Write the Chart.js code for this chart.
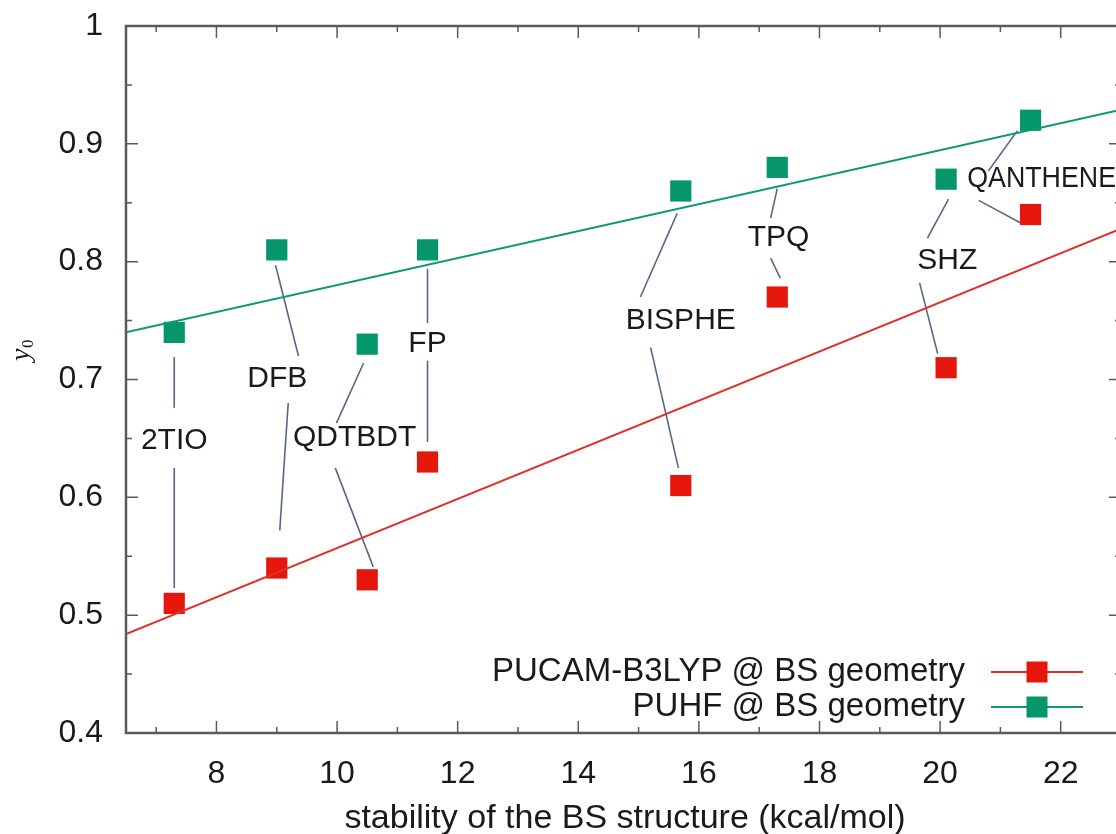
<!DOCTYPE html>
<html>
<head>
<meta charset="utf-8">
<script src="https://cdn.jsdelivr.net/npm/chart.js@4.4.1/dist/chart.umd.min.js"></script>
<style>
  html, body { margin: 0; padding: 0; background: #fff; overflow: hidden; }
  #wrap { width: 1140px; height: 834px; }
</style>
</head>
<body>
<div id="wrap"><canvas id="chart" width="1140" height="834"></canvas></div>
<script>
'use strict';

// Data
const molecules = ['2TIO', 'DFB', 'QDTBDT', 'FP', 'BISPHE', 'TPQ', 'SHZ', 'QANTHENE'];
const stability = [7.3, 9.0, 10.5, 11.5, 15.7, 17.3, 20.1, 21.5];
const y0Pucam = [0.51, 0.54, 0.53, 0.63, 0.61, 0.77, 0.71, 0.84];
const y0Puhf = [0.74, 0.81, 0.73, 0.81, 0.86, 0.88, 0.87, 0.92];
// linear fits, end points
const fitPucam = [[6.5, 0.484], [23, 0.828]];
const fitPuhf = [[6.5, 0.740], [23, 0.929]];

const xTicks = [8, 10, 12, 14, 16, 18, 20, 22];
const yTicks = [0.4, 0.5, 0.6, 0.7, 0.8, 0.9, 1];

// label anchors (x, y, align) and leader segments (x1, y1, x2, y2), data units
const labelPos = [
  [7.30, 0.648, 'center'],
  [9.01, 0.701, 'center'],
  [10.29, 0.651, 'center'],
  [11.50, 0.730, 'center'],
  [15.70, 0.750, 'center'],
  [17.32, 0.820, 'center'],
  [20.12, 0.801, 'center'],
  [20.45, 0.870, 'left'],
];
const leaders = [
  [[7.30, 0.719, 7.30, 0.676], [7.30, 0.625, 7.30, 0.523]],
  [[8.98, 0.797, 9.36, 0.720], [9.19, 0.680, 9.05, 0.572]],
  [[10.44, 0.714, 9.99, 0.663], [9.97, 0.625, 10.60, 0.541]],
  [[11.50, 0.794, 11.50, 0.748], [11.50, 0.716, 11.50, 0.647]],
  [[15.64, 0.841, 15.03, 0.770], [15.20, 0.727, 15.66, 0.625]],
  [[17.30, 0.862, 17.19, 0.837], [17.19, 0.803, 17.35, 0.786]],
  [[20.14, 0.853, 19.79, 0.820], [19.66, 0.782, 19.96, 0.722]],
  [[21.28, 0.911, 20.80, 0.877], [20.64, 0.852, 21.33, 0.833]],
];

const seriesNames = ['PUCAM-B3LYP @ BS geometry', 'PUHF @ BS geometry'];
const redMark = '#e5170c';
const redLine = '#e0302a';
const greenMark = '#05966b';
const greenLine = '#0d9a72';
const leaderColor = '#56688a';
const frameColor = '#5a5a5a';
const FONT = "'Liberation Sans', Arial, sans-serif";

Chart.defaults.font.family = FONT;

const gnuplotLook = {
  id: 'gnuplotLook',
  beforeDatasetsDraw(chart) {
    const { ctx, scales: { x, y } } = chart;
    ctx.save();
    // leader lines
    ctx.strokeStyle = leaderColor;
    ctx.lineWidth = 1.6;
    leaders.forEach((segs) => {
      segs.forEach((s) => {
        ctx.beginPath();
        ctx.moveTo(x.getPixelForValue(s[0]), y.getPixelForValue(s[1]));
        ctx.lineTo(x.getPixelForValue(s[2]), y.getPixelForValue(s[3]));
        ctx.stroke();
      });
    });
    ctx.restore();
  },
  afterDraw(chart) {
    const { ctx, chartArea: a, scales: { x, y } } = chart;
    ctx.save();
    // frame
    ctx.strokeStyle = frameColor;
    ctx.lineWidth = 2.5;
    ctx.strokeRect(a.left, a.top, a.right - a.left, a.bottom - a.top);
    // inward ticks
    ctx.lineWidth = 1.5;
    for (let v = 7; v <= 22; v++) {
      const px = x.getPixelForValue(v);
      const len = v % 2 === 0 ? 12 : 6;
      ctx.beginPath();
      ctx.moveTo(px, a.bottom); ctx.lineTo(px, a.bottom - len);
      ctx.moveTo(px, a.top); ctx.lineTo(px, a.top + len);
      ctx.stroke();
    }
    for (let i = 1; i < 12; i++) {
      const v = 0.4 + i * 0.05;
      const py = y.getPixelForValue(v);
      const len = i % 2 === 0 ? 12 : 6;
      ctx.beginPath();
      ctx.moveTo(a.left, py); ctx.lineTo(a.left + len, py);
      ctx.moveTo(a.right, py); ctx.lineTo(a.right - len, py);
      ctx.stroke();
    }

    // molecule labels
    ctx.fillStyle = '#1a1a1a';
    ctx.font = '30px ' + FONT;
    ctx.textBaseline = 'middle';
    molecules.forEach((name, i) => {
      const p = labelPos[i];
      ctx.textAlign = p[2];
      const px = x.getPixelForValue(p[0]);
      if (p[2] === 'left') {
        ctx.fillText(name, px, y.getPixelForValue(p[1]), 1116 - px);
      } else {
        ctx.fillText(name, px, y.getPixelForValue(p[1]));
      }
    });

    // legend
    ctx.font = '33px ' + FONT;
    const rows = [[redLine, redMark, 672], [greenLine, greenMark, 707]];
    rows.forEach((r, i) => {
      ctx.textAlign = 'right';
      ctx.fillStyle = '#1a1a1a';
      ctx.fillText(seriesNames[i], 965, r[2]);
      ctx.strokeStyle = r[0];
      ctx.lineWidth = 2;
      ctx.beginPath();
      ctx.moveTo(991, r[2]); ctx.lineTo(1083, r[2]);
      ctx.stroke();
      ctx.fillStyle = r[1];
      ctx.fillRect(1037 - 10.5, r[2] - 10.5, 21, 21);
    });

    // axis titles
    ctx.fillStyle = '#1a1a1a';
    ctx.textAlign = 'center';
    ctx.font = '34px ' + FONT;
    ctx.fillText('stability of the BS structure (kcal/mol)', 625, 819);

    ctx.translate(22, 352);
    ctx.rotate(-Math.PI / 2);
    ctx.textAlign = 'left';
    ctx.font = 'italic 28px "Liberation Serif", serif';
    ctx.fillText('y', -9, 0);
    ctx.font = '17px "Liberation Serif", serif';
    ctx.fillText('0', 4, 7);
    ctx.restore();
  },
};

const ctx = document.getElementById('chart');

// eslint-disable-next-line no-new,no-undef
let chart = new Chart(ctx, {
  type: 'scatter',
  data: {
    datasets: [
      {
        label: 'fit PUCAM',
        type: 'line',
        data: fitPucam.map((p) => ({ x: p[0], y: p[1] })),
        borderColor: redLine,
        borderWidth: 2,
        pointRadius: 0,
      },
      {
        label: 'fit PUHF',
        type: 'line',
        data: fitPuhf.map((p) => ({ x: p[0], y: p[1] })),
        borderColor: greenLine,
        borderWidth: 2,
        pointRadius: 0,
      },
      {
        label: seriesNames[0],
        data: stability.map((v, i) => ({ x: v, y: y0Pucam[i] })),
        pointStyle: 'rect',
        pointRadius: 15,
        borderWidth: 0,
        backgroundColor: redMark,
        borderColor: redMark,
      },
      {
        label: seriesNames[1],
        data: stability.map((v, i) => ({ x: v, y: y0Puhf[i] })),
        pointStyle: 'rect',
        pointRadius: 15,
        borderWidth: 0,
        backgroundColor: greenMark,
        borderColor: greenMark,
      },
    ],
  },
  options: {
    responsive: false,
    animation: false,
    layout: { padding: { top: 26, right: 19, left: 0, bottom: 0 } },
    plugins: { legend: { display: false }, tooltip: { enabled: false } },
    scales: {
      x: {
        type: 'linear',
        min: 6.5,
        max: 23,
        afterBuildTicks: (s) => { s.ticks = xTicks.map((v) => ({ value: v })); },
        afterFit: (s) => { s.height = 101; },
        grid: { display: false, drawTicks: false },
        border: { display: false },
        ticks: { padding: 22, color: '#1a1a1a', font: { size: 32 }, maxRotation: 0 },
      },
      y: {
        min: 0.4,
        max: 1,
        afterBuildTicks: (s) => { s.ticks = yTicks.map((v) => ({ value: v })); },
        afterFit: (s) => {
          s.width = 126;
          s.paddingTop = 0;
          s.paddingBottom = 0;
        },
        grid: { display: false, drawTicks: false },
        border: { display: false },
        ticks: {
          padding: 23,
          color: '#1a1a1a',
          font: { size: 32 },
          callback: (v) => String(v),
        },
      },
    },
  },
  plugins: [gnuplotLook],
});
</script>
</body>
</html>
